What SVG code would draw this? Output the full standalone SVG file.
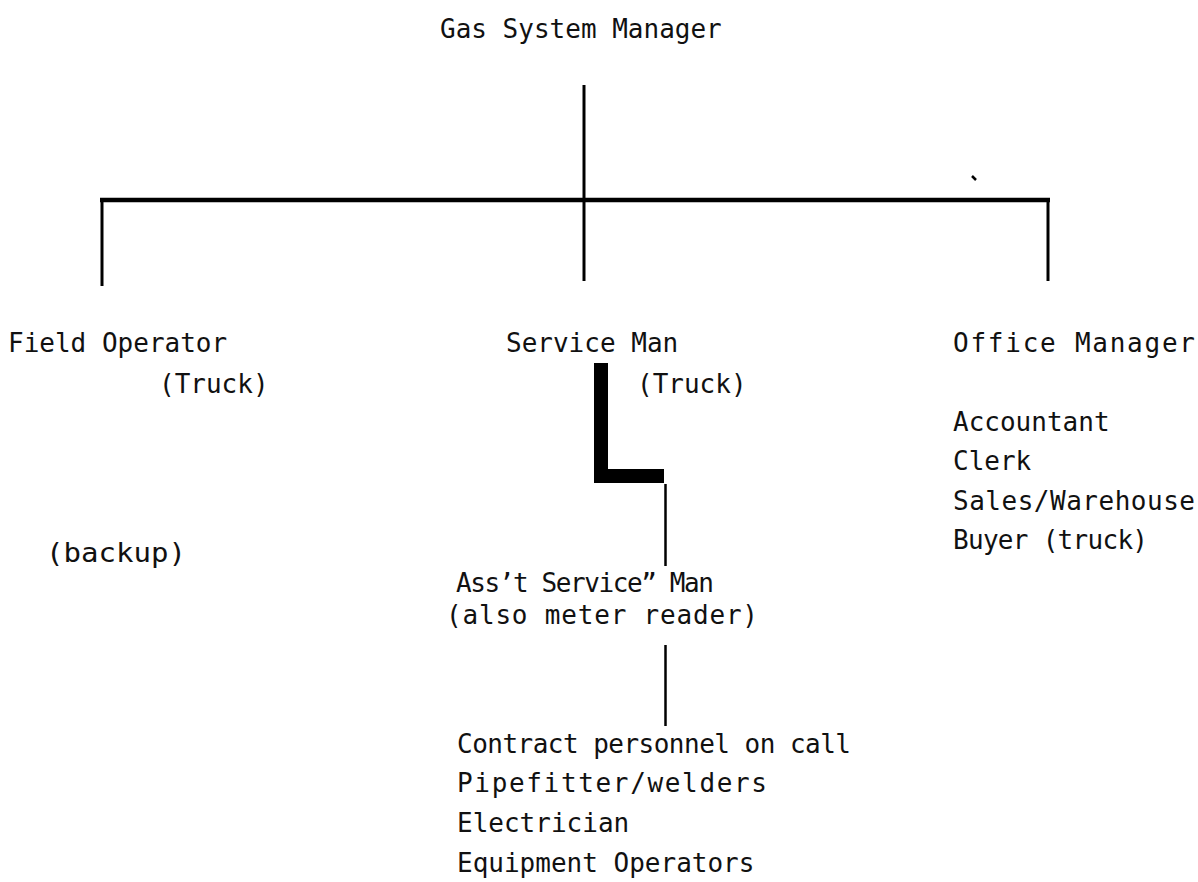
<svg xmlns="http://www.w3.org/2000/svg" width="1198" height="882" viewBox="0 0 1198 882">
<style>
text{font-family:"DejaVu Sans Mono","Liberation Mono",monospace;font-size:26px;fill:#111;}
.ln{stroke:#000;fill:none;}
</style>
<rect width="1198" height="882" fill="#fff"/>
<g id="connectors">
<line class="ln" x1="584" y1="85" x2="584" y2="281" stroke-width="3"/>
<line class="ln" x1="100" y1="200" x2="1050" y2="200" stroke-width="4.5"/>
<line class="ln" x1="102" y1="200" x2="102" y2="286" stroke-width="3"/>
<line class="ln" x1="1048" y1="200" x2="1048" y2="281" stroke-width="3"/>
<path d="M594 363 H608 V469 H664 V483 H594 Z" fill="#000"/>
<line class="ln" x1="665.5" y1="484" x2="665.5" y2="566" stroke-width="2.5"/>
<line class="ln" x1="665.5" y1="645" x2="665.5" y2="726" stroke-width="2.5"/>
<path d="M972 176 L976 180" stroke="#000" stroke-width="2.5"/>
</g>
<g id="gas-system-manager"><text x="440" y="38">Gas System Manager</text></g>
<g id="field-operator">
<text x="8" y="352">Field Operator</text>
<text x="159" y="393">(Truck)</text>
<text x="46" y="562" textLength="140" lengthAdjust="spacingAndGlyphs">(backup)</text>
</g>
<g id="service-man">
<text x="506" y="352">Service Man</text>
<text x="637" y="393">(Truck)</text>
</g>
<g id="office-manager">
<text x="953" y="352" textLength="242" lengthAdjust="spacing">Office Manager</text>
<text x="953" y="431">Accountant</text>
<text x="953" y="470">Clerk</text>
<text x="953" y="510" textLength="242" lengthAdjust="spacing">Sales/Warehouse</text>
<text x="953" y="549" textLength="195" lengthAdjust="spacing">Buyer (truck)</text>
</g>
<g id="asst-service-man">
<text x="456" y="592" textLength="258" lengthAdjust="spacing">Ass’t Service” Man</text>
<text x="446" y="624" textLength="312" lengthAdjust="spacing">(also meter reader)</text>
</g>
<g id="contract-personnel">
<text x="457" y="753" textLength="394" lengthAdjust="spacing">Contract personnel on call</text>
<text x="457" y="792" textLength="310" lengthAdjust="spacing">Pipefitter/welders</text>
<text x="457" y="832">Electrician</text>
<text x="457" y="872">Equipment Operators</text>
</g>
</svg>
